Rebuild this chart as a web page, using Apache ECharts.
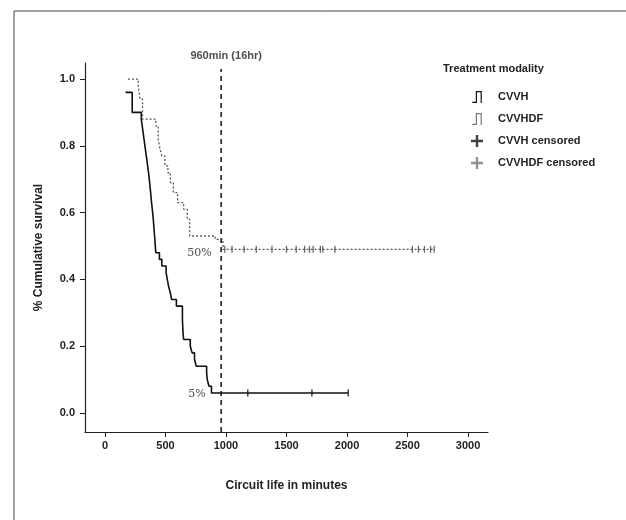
<!DOCTYPE html>
<html>
<head>
<meta charset="utf-8">
<script src="https://cdn.jsdelivr.net/npm/echarts@6/dist/echarts.min.js"></script>
<style>html,body{margin:0;padding:0;background:#fff}#c{width:626px;height:520px}</style>
</head>
<body>
<div id="c"></div>
<script>
// ---- data ----
const cvvhTime = [170,225,300,315,330,345,360,372,385,397,410,420,450,470,505,515,525,540,550,590,640,645,650,705,720,740,755,840,845,860,880,2010];
const cvvhSurv = [0.96,0.90,0.88,0.84,0.80,0.76,0.72,0.68,0.63,0.59,0.53,0.48,0.46,0.44,0.42,0.40,0.38,0.36,0.34,0.32,0.28,0.24,0.22,0.20,0.18,0.16,0.14,0.12,0.10,0.08,0.06,0.06];
const cvvhdfTime = [190,275,290,310,420,440,455,470,495,520,540,565,600,650,680,700,910,975,2720];
const cvvhdfSurv = [1.00,0.98,0.94,0.88,0.86,0.82,0.79,0.77,0.74,0.72,0.69,0.66,0.63,0.61,0.58,0.53,0.52,0.49,0.49];
const cvvhCensTime = [1180,1710,2010];
const cvvhdfCensTime = [990,1050,1150,1250,1380,1500,1580,1650,1690,1720,1780,1800,1900,2540,2590,2640,2690,2720];
const xTicks = [0,500,1000,1500,2000,2500,3000];
const yTicks = [0.0,0.2,0.4,0.6,0.8,1.0];
const refTime = 960;
const refLabel = '960min (16hr)';
const medLabels = [{t:780, s:0.48, text:'50%'}, {t:760, s:0.057, text:'5%'}];
const legendNames = ['CVVH','CVVHDF','CVVH censored','CVVHDF censored'];
const legendTitle = 'Treatment modality';
const xName = 'Circuit life in minutes';
const yName = '% Cumulative survival';

function survAt(times, surv, t){ let v = surv[0]; for(let i=0;i<times.length;i++){ if(times[i]<=t) v=surv[i]; } return v; }
const pairs = (a,b)=>a.map((t,i)=>[t,b[i]]);

const FONT = "'Liberation Sans Narrow','Liberation Sans',Arial,sans-serif";
const chart = echarts.init(document.getElementById('c'), null, {renderer:'canvas'});
const plusIcon = 'path://M4,0 L6,0 L6,4 L10,4 L10,6 L6,6 L6,10 L4,10 L4,6 L0,6 L0,4 L4,4 Z';
const stepIcon = 'path://M0,9 L3,9 L3,0 L8,0 L8,10 L7,10 L7,1 L4,1 L4,10 L0,10 Z';

chart.setOption({
  animation:false,
  backgroundColor:'#fff',
  title:{text:legendTitle,left:438,top:58,textStyle:{fontFamily:FONT,fontSize:11,fontWeight:'bold',color:'#222'}},
  legend:{
    orient:'vertical',left:466,top:86,itemGap:10,itemWidth:12,itemHeight:12,
    textStyle:{fontFamily:FONT,fontSize:11,fontWeight:'bold',color:'#222',padding:[0,0,0,10]},
    data:[
      {name:legendNames[0],icon:stepIcon,itemStyle:{color:'#111'}},
      {name:legendNames[1],icon:stepIcon,itemStyle:{color:'#777'}},
      {name:legendNames[2],icon:plusIcon,itemStyle:{color:'#111'}},
      {name:legendNames[3],icon:plusIcon,itemStyle:{color:'#777'}}
    ]
  },
  graphic:[{type:'rect',shape:{x:14,y:11,width:640,height:540},style:{fill:'none',stroke:'#444',lineWidth:1},silent:true}],
  grid:{left:85,right:138,top:63,bottom:88},
  xAxis:{
    type:'value',min:-165,max:3165,
    name:xName,nameLocation:'middle',nameGap:48,
    nameTextStyle:{fontFamily:FONT,fontSize:12,fontWeight:'bold',color:'#222'},
    axisLine:{show:true,onZero:false,lineStyle:{color:'#222',width:1.2}},
    axisTick:{show:true,customValues:xTicks,length:5,lineStyle:{color:'#222'}},
    axisLabel:{customValues:xTicks,formatter:v=>String(Math.round(v)),fontFamily:FONT,fontSize:11,fontWeight:'bold',color:'#222',margin:8},
    splitLine:{show:false}
  },
  yAxis:{
    type:'value',min:-0.057,max:1.048,
    name:yName,nameLocation:'middle',nameGap:40,nameRotate:90,
    nameTextStyle:{fontFamily:FONT,fontSize:12,fontWeight:'bold',color:'#222'},
    axisLine:{show:true,onZero:false,lineStyle:{color:'#222',width:1.2}},
    axisTick:{show:true,customValues:yTicks,length:5,lineStyle:{color:'#222'}},
    axisLabel:{customValues:yTicks,formatter:v=>v.toFixed(1),fontFamily:FONT,fontSize:11,fontWeight:'bold',color:'#222',margin:10},
    splitLine:{show:false}
  },
  series:[
    {name:legendNames[0],type:'line',step:'end',showSymbol:false,data:pairs(cvvhTime,cvvhSurv),
     lineStyle:{color:'#111',width:1.6},itemStyle:{color:'#111'},z:3},
    {name:legendNames[1],type:'line',step:'end',showSymbol:false,data:pairs(cvvhdfTime,cvvhdfSurv),
     lineStyle:{color:'#555',width:1.3,type:[2,2]},itemStyle:{color:'#777'},z:3},
    {name:legendNames[2],type:'scatter',symbol:'rect',symbolSize:[1.5,7],
     data:cvvhCensTime.map(t=>[t,survAt(cvvhTime,cvvhSurv,t)]),itemStyle:{color:'#111'},z:4},
    {name:legendNames[3],type:'scatter',symbol:'rect',symbolSize:[1.3,7],
     data:cvvhdfCensTime.map(t=>[t,survAt(cvvhdfTime,cvvhdfSurv,t)]),itemStyle:{color:'#444'},z:4},
    {name:'ref',type:'line',showSymbol:false,data:[[refTime,-0.057],[refTime,1.03]],
     lineStyle:{color:'#111',width:1.5,type:[5,4]},z:2},
    {name:'refLabel',type:'scatter',symbolSize:0,data:[[refTime,1.03]],
     label:{show:true,formatter:refLabel,position:'top',distance:8,offset:[5,0],fontFamily:FONT,fontSize:11,fontWeight:'bold',color:'#222'},z:5},
    {name:'medLabels',type:'scatter',symbolSize:0,data:medLabels.map(m=>({value:[m.t,m.s],name:m.text})),
     label:{show:true,formatter:p=>p.name,position:'inside',fontFamily:"'DejaVu Serif',serif",fontSize:11,color:'#222'},z:5}
  ]
});
</script>
</body>
</html>
